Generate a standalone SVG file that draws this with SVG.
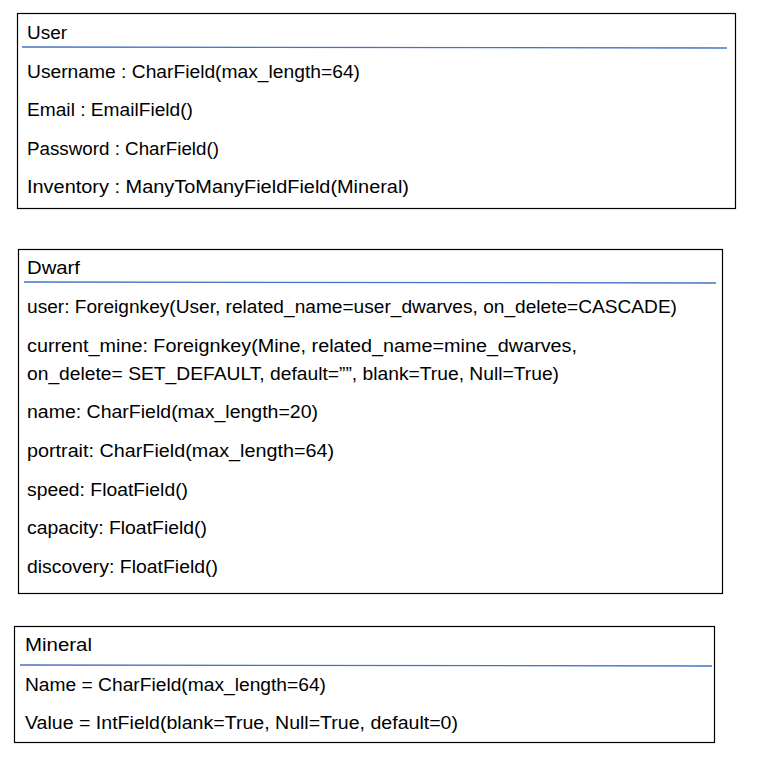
<svg xmlns="http://www.w3.org/2000/svg" width="757" height="762" viewBox="0 0 757 762">
<style>
.box{fill:#fff;stroke:#000;stroke-width:1.2}
.sep{stroke:#4472c4;stroke-width:1.3}
text{font-family:"Liberation Sans",Arial,sans-serif;font-size:17.5px;fill:#000}
</style>
<rect width="757" height="762" fill="#fff"/>
<g id="user">
<rect class="box" x="17.5" y="13.5" width="718" height="195"/>
<text x="27" y="39" textLength="40" lengthAdjust="spacingAndGlyphs">User</text>
<line class="sep" x1="22" y1="47" x2="727" y2="48"/>
<text x="27" y="78" textLength="333" lengthAdjust="spacingAndGlyphs">Username : CharField(max_length=64)</text>
<text x="27" y="116" textLength="166" lengthAdjust="spacingAndGlyphs">Email : EmailField()</text>
<text x="27" y="155" textLength="192" lengthAdjust="spacingAndGlyphs">Password : CharField()</text>
<text x="27" y="193" textLength="382" lengthAdjust="spacingAndGlyphs">Inventory : ManyToManyFieldField(Mineral)</text>
</g>
<g id="dwarf">
<rect class="box" x="18.5" y="249.5" width="704" height="344"/>
<text x="27" y="274" textLength="53" lengthAdjust="spacingAndGlyphs">Dwarf</text>
<line class="sep" x1="24" y1="282" x2="716" y2="283"/>
<text x="27" y="313" textLength="650" lengthAdjust="spacingAndGlyphs">user: Foreignkey(User, related_name=user_dwarves, on_delete=CASCADE)</text>
<text x="27" y="352" textLength="550" lengthAdjust="spacingAndGlyphs">current_mine: Foreignkey(Mine, related_name=mine_dwarves,</text>
<text x="27" y="380" textLength="532" lengthAdjust="spacingAndGlyphs">on_delete= SET_DEFAULT, default=””, blank=True, Null=True)</text>
<text x="27" y="418" textLength="291" lengthAdjust="spacingAndGlyphs">name: CharField(max_length=20)</text>
<text x="27" y="457" textLength="307" lengthAdjust="spacingAndGlyphs">portrait: CharField(max_length=64)</text>
<text x="27" y="496" textLength="161" lengthAdjust="spacingAndGlyphs">speed: FloatField()</text>
<text x="27" y="534" textLength="180" lengthAdjust="spacingAndGlyphs">capacity: FloatField()</text>
<text x="27" y="573" textLength="191" lengthAdjust="spacingAndGlyphs">discovery: FloatField()</text>
</g>
<g id="mineral">
<rect class="box" x="14.5" y="626.5" width="700" height="116"/>
<text x="25" y="651" textLength="67" lengthAdjust="spacingAndGlyphs">Mineral</text>
<line class="sep" x1="20" y1="665" x2="712" y2="666"/>
<text x="25" y="691" textLength="301" lengthAdjust="spacingAndGlyphs">Name = CharField(max_length=64)</text>
<text x="25" y="729" textLength="433" lengthAdjust="spacingAndGlyphs">Value = IntField(blank=True, Null=True, default=0)</text>
</g>
<g id="connectors"></g>
</svg>
